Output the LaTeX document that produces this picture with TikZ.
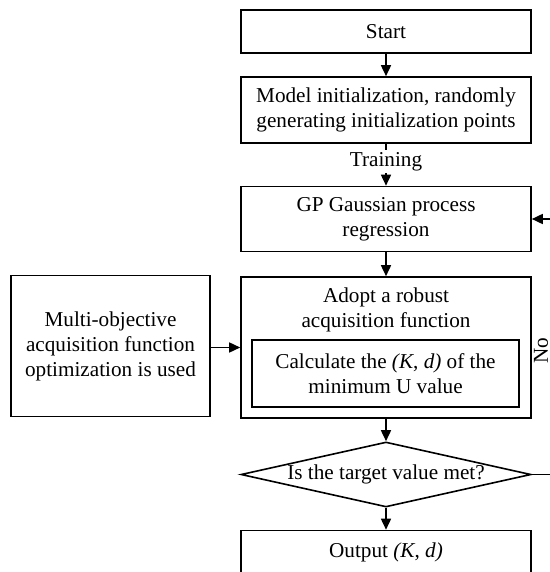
\documentclass[tikz,border=0pt]{standalone}
\usepackage{fontspec}
\setmainfont{Liberation Serif}
\usetikzlibrary{arrows.meta,shapes.geometric}

\begin{document}
\begin{tikzpicture}[x=0.5pt, y=-0.5pt,
    font=\fontsize{10.6}{12.5}\selectfont,
    line width=0.8pt,
    box/.style={draw, rectangle, align=center, minimum width=145pt, inner sep=0pt},
    decide/.style={draw, diamond, aspect=4.46, inner sep=0pt,
      minimum width=145pt, minimum height=32.5pt},
    flow/.style={-{Triangle[length=5.5pt,width=5pt]}}]
  % page frame (the right edge cuts the feedback loop)
  \clip (0,0) rectangle (550,572);

  % main column
  \node[box, minimum height=21.5pt] (start) at (386,31.5) {Start};
  \node[box, minimum height=33pt] (init) at (386,110)
    {Model initialization, randomly\\generating initialization points};
  \node[box, minimum height=32.5pt] (gp) at (386,219)
    {GP Gaussian process\\regression};
  \node[box, minimum height=70.5pt] (adopt) at (386,347.5) {};
  \node[align=center, inner sep=0pt] (adopttxt) at (386,310)
    {Adopt a robust\\acquisition function};
  \node[box, minimum width=133.5pt, minimum height=33.5pt] (calc) at (385.5,373.5)
    {Calculate the \textit{(K}, \textit{d)} of the\\minimum U value};
  \node[decide] (check) at (386,474.5) {Is the target value met?};
  \node[box, minimum height=21.5pt] (output) at (386,552) {Output \textit{(K}, \textit{d)}};

  % side input
  \node[box, minimum width=99.5pt, minimum height=70.5pt] (multi) at (110.5,346)
    {Multi-objective\\acquisition function\\optimization is used};

  % feedback corners
  \coordinate (fbdown) at (558,474.5);
  \coordinate (fbup) at (558,219);

  % connectors
  \draw[flow] (start) -- (init);
  \draw[flow] (init) -- node[pos=0.42, fill=white, inner sep=1pt] (train) {Training} (gp);
  \draw[flow] (gp) -- (adopt);
  \draw[flow] (adopt) -- (check);
  \draw[flow] (check) -- (output);
  \draw[flow] (multi.east |- adopt) -- (adopt.west);
  \draw[flow] (check.east) -- (fbdown) -- (fbup) -- (gp.east);
  \node[rotate=90, inner sep=0pt] (no) at (541,351) {No};
\end{tikzpicture}
\end{document}
